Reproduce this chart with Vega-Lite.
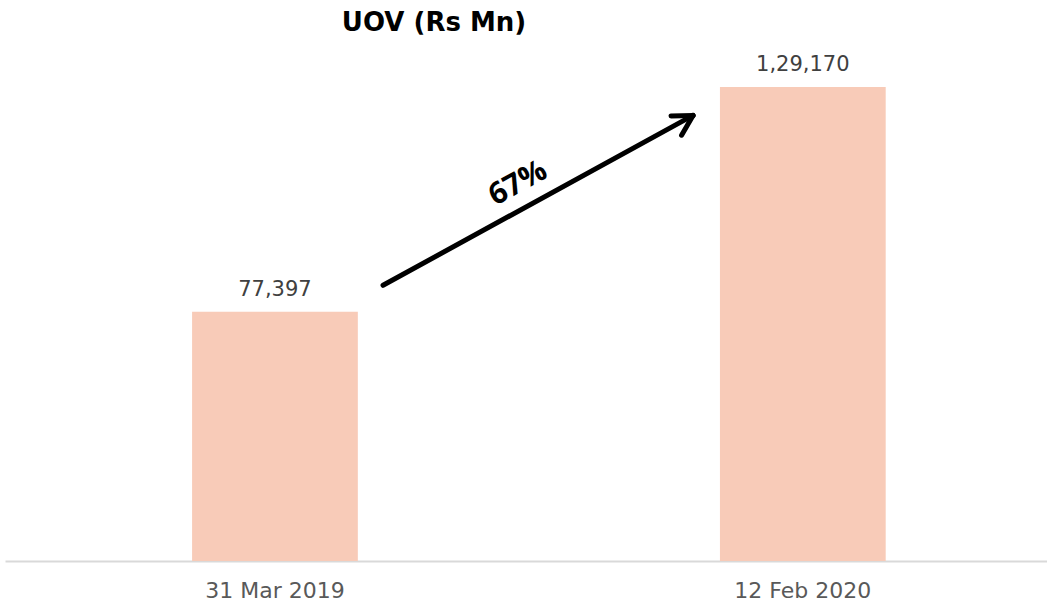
{
  "$schema": "https://vega.github.io/schema/vega-lite/v6.json",
  "width": 1042,
  "height": 521,
  "autosize": {"type": "none"},
  "padding": {"left": 5, "top": 40, "right": 0, "bottom": 42},
  "background": "white",
  "config": {
    "view": {"stroke": null},
    "axis": {"grid": false}
  },
  "title": {
    "text": "UOV (Rs Mn)",
    "font": "DejaVu Sans",
    "fontSize": 26,
    "fontWeight": "bold",
    "color": "black",
    "anchor": "middle",
    "frame": "group",
    "dx": -92,
    "offset": 4
  },
  "datasets": {
    "bars": [
      {"date": "31 Mar 2019", "value": 77397, "label": "77,397"},
      {"date": "12 Feb 2020", "value": 129170, "label": "1,29,170"}
    ],
    "arrow": [
      {"part": "shaft", "x": 36.28, "y": 83508, "x2": 66.03, "y2": 122626},
      {"part": "arm1", "x": 63.92, "y": 122513, "x2": 66.03, "y2": 122626},
      {"part": "arm2", "x": 64.93, "y": 118069, "x2": 66.03, "y2": 122626}
    ],
    "note": [
      {"x": 49.23, "y": 106978, "text": "67%"}
    ]
  },
  "layer": [
    {
      "data": {"name": "bars"},
      "encoding": {
        "x": {
          "field": "date",
          "type": "nominal",
          "sort": null,
          "scale": {"paddingInner": 0.686, "paddingOuter": 0.33, "align": 0.537},
          "axis": {
            "title": null,
            "labelAngle": 0,
            "ticks": false,
            "domainColor": "#D9D9D9",
            "domainWidth": 2,
            "labelFont": "DejaVu Sans",
            "labelFontSize": 22,
            "labelColor": "#595959",
            "labelPadding": 19
          }
        },
        "y": {
          "field": "value",
          "type": "quantitative",
          "scale": {"domain": [20000, 140000], "zero": false, "nice": false},
          "axis": null
        }
      },
      "layer": [
        {
          "mark": {"type": "bar", "color": "#F8CBB8"},
          "encoding": {"y2": {"datum": 20000}}
        },
        {
          "mark": {
            "type": "text",
            "font": "DejaVu Sans",
            "fontSize": 21,
            "color": "#404040",
            "baseline": "alphabetic",
            "dy": -16
          },
          "encoding": {"text": {"field": "label"}}
        }
      ]
    },
    {
      "encoding": {
        "x": {
          "field": "x",
          "type": "quantitative",
          "scale": {"domain": [0, 100], "zero": false, "nice": false},
          "axis": null
        },
        "y": {
          "field": "y",
          "type": "quantitative",
          "scale": {"domain": [20000, 140000], "zero": false, "nice": false},
          "axis": null
        }
      },
      "layer": [
        {
          "data": {"name": "arrow"},
          "mark": {"type": "rule", "strokeWidth": 5, "strokeCap": "round", "color": "black"},
          "encoding": {
            "x2": {"field": "x2"},
            "y2": {"field": "y2"}
          }
        },
        {
          "data": {"name": "note"},
          "mark": {
            "type": "text",
            "angle": 331,
            "font": "Open Sans",
            "fontSize": 30,
            "fontWeight": "bold",
            "color": "black",
            "align": "center",
            "baseline": "middle"
          },
          "encoding": {"text": {"field": "text"}}
        }
      ]
    }
  ],
  "resolve": {"scale": {"x": "independent"}, "axis": {"x": "independent"}}
}
